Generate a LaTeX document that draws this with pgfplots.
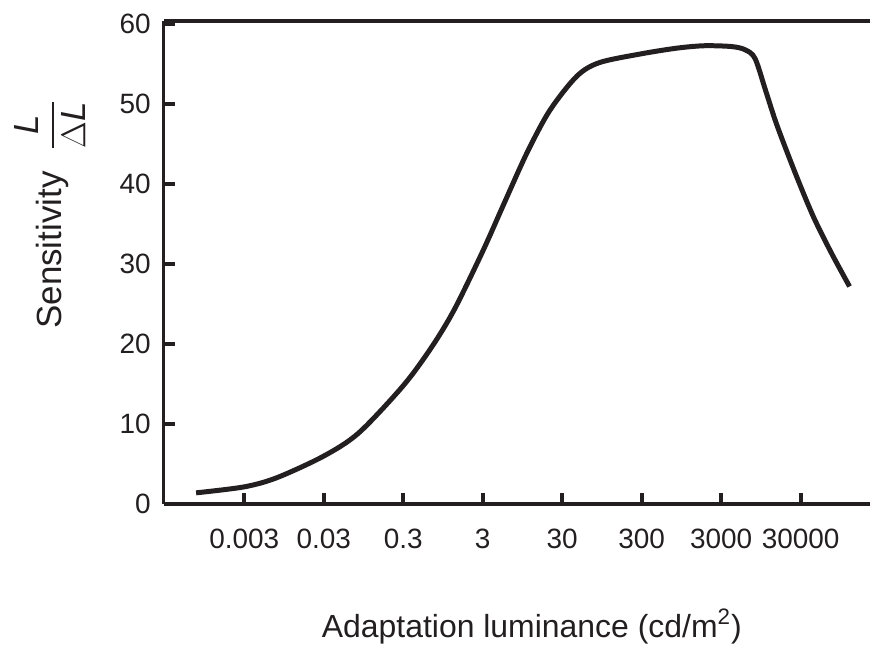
\documentclass[border=0pt]{standalone}
\usepackage{amsmath}
\usepackage{pgfplots}
\pgfplotsset{compat=1.18}
\usepackage{fontspec}
\setmainfont{Liberation Sans}
\definecolor{ink}{RGB}{35,31,32}
\begin{document}
\begin{tikzpicture}
\begin{axis}[
  scale only axis,
  width=354pt, height=242pt,
  xmode=log,
  xmin=2.9e-4, xmax=2.26e5,
  ymin=0, ymax=60.4,
  axis x line=box, axis y line=left,
  x axis line style={-, line width=1.7pt, color=ink},
  y axis line style={-, line width=1.7pt, color=ink},
  xtick pos=bottom, ytick pos=left,
  tick align=inside,
  major tick length=5.5pt,
  tick style={line width=2pt, color=ink},
  xminorticks=false, yminorticks=false,
  log ticks with fixed point,
  xtick={0.003,0.03,0.3,3,30,300,3000,30000},
  xticklabels={0.003,0.03,0.3,3,30,300,3000,30000},
  ytick={0,10,20,30,40,50,60},
  yticklabels={0,10,20,30,40,50,60},
  /pgf/number format/assume math mode=true,
  xticklabel style={font=\fontsize{14}{16}\selectfont, text=ink, yshift=-9pt},
  yticklabel style={font=\fontsize{14}{16}\selectfont, text=ink, xshift=-3pt},
  xlabel={Adaptation luminance (cd/m\textsuperscript{2})},
  xlabel style={font=\fontsize{16}{19}\selectfont, text=ink, at={(axis description cs:0.521,-0.254)}, anchor=center},
  ylabel={Sensitivity\hspace{0.6em}{\fontsize{17.5}{20}\selectfont$\dfrac{\mbox{\itshape L}}{\mbox{$\Delta$\itshape L}}$}},
  ylabel style={font=\fontsize{17.5}{20}\selectfont, text=ink, at={(axis description cs:-0.161,0.6)}, anchor=center},
  clip=false,
]
\addplot[color=ink, line width=2.5pt, smooth, tension=0.5] coordinates {
(7.43e-4, 1.4)
(0.003, 2.15)
(0.00774, 3.3)
(0.03, 6.0)
(0.0828, 8.9)
(0.3, 14.8)
(0.681, 19.6)
(1.315, 24.3)
(3, 31.6)
(5.58, 37.6)
(10.8, 43.9)
(20.9, 49.2)
(45.9, 53.5)
(88.7, 55.2)
(300, 56.3)
(832, 57.0)
(1833, 57.3)
(4040, 57.2)
(6000, 56.8)
(8020, 55.7)
(10965, 51.6)
(15070, 47.4)
(25500, 41.46)
(43100, 36.0)
(73100, 31.4)
(123900, 27.2)
};
\path (rel axis cs:-0.2316,-0.2872) rectangle (rel axis cs:1,1.0434);
\end{axis}
\end{tikzpicture}
\end{document}
